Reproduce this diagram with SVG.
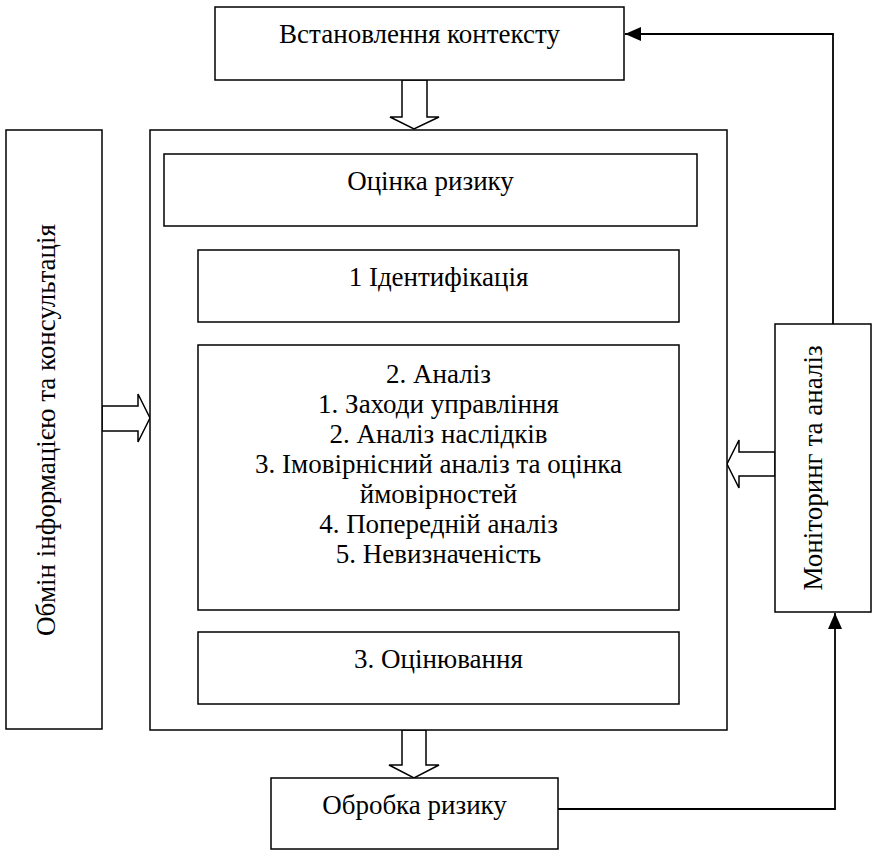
<svg xmlns="http://www.w3.org/2000/svg" width="875" height="851" viewBox="0 0 875 851">
  <style>
    .box { fill: #fff; stroke: #000; stroke-width: 1.5; }
    .blk { fill: #fff; stroke: #000; stroke-width: 1.5; stroke-linejoin: miter; }
    .line { fill: none; stroke: #000; stroke-width: 1.8; }
    text { font-family: "Liberation Serif", "DejaVu Serif", serif; font-size: 27px; fill: #000; text-anchor: middle; }
  </style>
  <defs>
    <marker id="head" viewBox="0 0 16 14" refX="16" refY="7" markerWidth="16" markerHeight="14" markerUnits="userSpaceOnUse" orient="auto">
      <path d="M0,0 L16,7 L0,14 z" fill="#000"/>
    </marker>
  </defs>
  <rect width="875" height="851" fill="#fff"/>

  <!-- Connectors: feedback lines and hollow block arrows -->
  <g id="connectors">
    <path class="line" d="M558,809 H835 V613" marker-end="url(#head)"/>
    <path class="line" d="M833,324 V34 H625" marker-end="url(#head)"/>
    <polygon class="blk" points="402,80 402,117 390,117 414,129 439,117 427,117 427,80"/>
    <polygon class="blk" points="402,730 402,765 389,765 414,778 439,765 426,765 426,730"/>
    <polygon class="blk" points="102,406 138,406 138,394 150,418 138,442 138,431 102,431"/>
    <polygon class="blk" points="775,452 739,452 739,440 727,464 739,488 739,476 775,476"/>
  </g>

  <g id="context">
    <rect class="box" x="215" y="7" width="409" height="73"/>
    <text x="419.5" y="43">Встановлення контексту</text>
  </g>

  <g id="communication">
    <rect class="box" x="6" y="130" width="96" height="599"/>
    <text transform="translate(55,430) rotate(-90)">Обмін інформацією та консультація</text>
  </g>

  <g id="assessment-frame">
    <rect class="box" x="150" y="130" width="577" height="600"/>
  </g>

  <g id="risk-assessment">
    <rect class="box" x="164" y="154" width="533" height="72"/>
    <text x="430.5" y="190">Оцінка ризику</text>
  </g>

  <g id="identification">
    <rect class="box" x="198" y="250" width="481" height="72"/>
    <text x="438.5" y="286">1 Ідентифікація</text>
  </g>

  <g id="analysis">
    <rect class="box" x="198" y="345" width="481" height="265"/>
    <text x="438.5" y="383">2. Аналіз</text>
    <text x="438.5" y="413">1. Заходи управління</text>
    <text x="438.5" y="443">2. Аналіз наслідків</text>
    <text x="438.5" y="473">3. Імовірнісний аналіз та оцінка</text>
    <text x="438.5" y="503">ймовірностей</text>
    <text x="438.5" y="533">4. Попередній аналіз</text>
    <text x="438.5" y="563">5. Невизначеність</text>
  </g>

  <g id="evaluation">
    <rect class="box" x="198" y="632" width="481" height="72"/>
    <text x="438.5" y="668">3. Оцінювання</text>
  </g>

  <g id="monitoring">
    <rect class="box" x="775" y="324" width="96" height="288"/>
    <text transform="translate(822,468) rotate(-90)">Моніторинг та аналіз</text>
  </g>

  <g id="treatment">
    <rect class="box" x="271" y="778" width="287" height="71"/>
    <text x="414.5" y="814">Обробка ризику</text>
  </g>
</svg>
